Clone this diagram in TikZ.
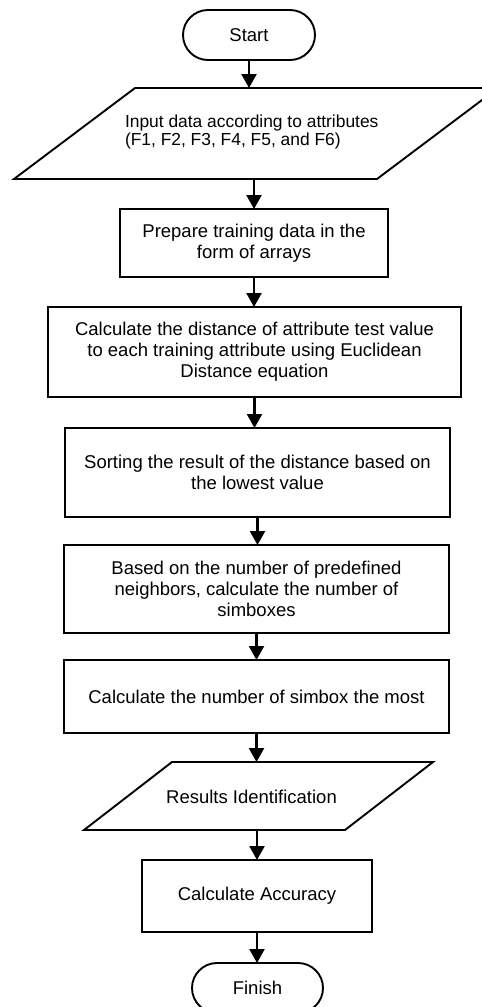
\documentclass[tikz,border=0pt]{standalone}
\usepackage{fontspec}
\setmainfont{Liberation Sans}
\usetikzlibrary{arrows.meta,calc}

\tikzset{
  base/.style={inner sep=0pt, outer sep=0pt, line width=1.9pt,
    font=\fontsize{18.5}{21}\selectfont, align=center},
  procbox/.style={base, draw, rectangle},
  termbox/.style={base, draw, rectangle, rounded corners=25pt,
    minimum width=132pt, minimum height=50pt},
  iobox/.style={base, rectangle},
  outline/.style={line width=1.9pt, line join=miter},
  arr/.style={line width=2.4pt, -{Triangle[width=15pt,length=14pt]}},
}

\begin{document}
\begin{tikzpicture}[x=1pt,y=-1pt]
\useasboundingbox (0,0) rectangle (482,1007);
\clip (0,0) rectangle (482,1007);

% terminals and process boxes
\node[termbox] (start) at (249,35) {Start};

\node[iobox, minimum width=484pt, minimum height=91pt] (input) at (256,133.5) {};
\draw[outline] ($(input.north west)+(121,0)$) -- (input.north east)
  -- ($(input.south east)-(121,0)$) -- (input.south west) -- cycle;
\node[base, anchor=west, align=left, font=\fontsize{17.4}{18}\selectfont]
  (inputtext) at (125,132) {Input data according to attributes\\(F1, F2, F3, F4, F5, and F6)};

\node[procbox, minimum width=268pt, minimum height=68pt] (prep) at (254,243)
  {Prepare training data in the\\form of arrays};
\node[procbox, minimum width=413pt, minimum height=90pt] (dist) at (254.5,352)
  {Calculate the distance of attribute test value\\to each training attribute using Euclidean\\Distance equation};
\node[procbox, minimum width=385pt, minimum height=89pt] (sort) at (257.5,472.5)
  {Sorting the result of the distance based on\\the lowest value};
\node[procbox, minimum width=385pt, minimum height=88pt] (count) at (256.5,589)
  {Based on the number of predefined\\neighbors, calculate the number of\\simboxes};
\node[procbox, minimum width=385pt, minimum height=73pt] (most) at (256.5,696.5)
  {Calculate the number of simbox the most};

\node[iobox, minimum width=349pt, minimum height=68pt] (result) at (258.5,796) {};
\draw[outline] ($(result.north west)+(88,0)$) -- (result.north east)
  -- ($(result.south east)-(88,0)$) -- (result.south west) -- cycle;
\node[base] (resulttext) at (251.5,797) {Results Identification};

\node[procbox, minimum width=230pt, minimum height=72pt] (acc) at (257,896)
  {Calculate Accuracy};
\node[termbox, minimum width=131pt] (finish) at (257.5,988) {Finish};

% flow arrows
\draw[arr] (start.south) -- (start.south |- input.north);
\draw[arr] (prep.north |- input.south) -- (prep.north);
\draw[arr] (prep.south) -- (prep.south |- dist.north);
\draw[arr] (dist.south) -- (dist.south |- sort.north);
\draw[arr] (sort.south) -- (sort.south |- count.north);
\draw[arr] (count.south) -- (count.south |- most.north);
\draw[arr] (most.south) -- (most.south |- result.north);
\draw[arr] (acc.north |- result.south) -- (acc.north);
\draw[arr] (acc.south) -- (acc.south |- finish.north);
\end{tikzpicture}
\end{document}
